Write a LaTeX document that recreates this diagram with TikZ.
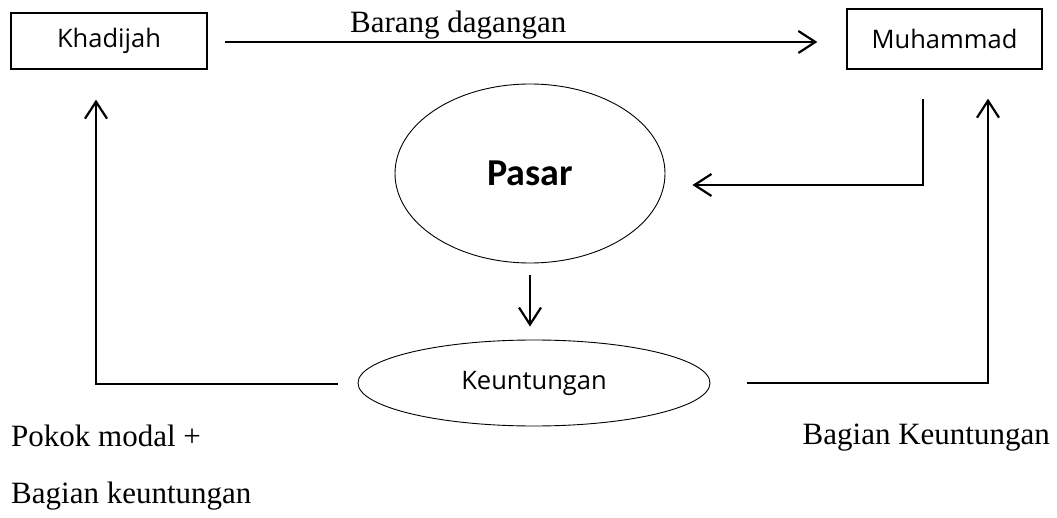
\documentclass[tikz,border=0pt]{standalone}
\usepackage{fontspec}
\setmainfont{Liberation Serif}
\newfontfamily\boxfont{Open Sans}
\newfontfamily\pasarfont{Carlito}
\usetikzlibrary{arrows.meta,shapes.geometric}
\begin{document}
\begin{tikzpicture}[x=1pt,y=-1pt,
  box/.style={draw, line width=1.3pt, inner sep=0pt, font=\boxfont\fontsize{25.5}{30}\selectfont},
  ell/.style={draw, ellipse, line width=0.9pt, inner sep=0pt},
  conn/.style={line width=2.2pt},
  arr/.style={conn, -{Straight Barb[length=17pt,width=22pt,line width=2.2pt]}},
  lbl/.style={inner sep=0pt, font=\fontsize{31}{36}\selectfont}
]
\useasboundingbox (0,0) rectangle (1057,518);
\node[box, minimum width=196pt, minimum height=56pt] (kh) at (109,41) {Khadijah};
\node[box, minimum width=195pt, minimum height=60pt] (mu) at (944.5,39) {Muhammad};
\node[ell, minimum width=270pt, minimum height=179pt, font=\pasarfont\bfseries\fontsize{38}{44}\selectfont] (pa) at (530,173.5) {Pasar};
\node[ell, minimum width=352pt, minimum height=86pt, font=\boxfont\fontsize{25.5}{30}\selectfont] (ke) at (534,383) {Keuntungan};

\node[lbl, anchor=base west] (bd) at (350,33) {Barang dagangan};
\node[lbl, anchor=base west] (pm) at (11,446) {Pokok modal +};
\node[lbl, anchor=base west] (bk1) at (11,503) {Bagian keuntungan};
\node[lbl, anchor=base east] (bk2) at (1050,444) {Bagian Keuntungan};

\draw[arr] ([xshift=17pt,yshift=-1pt]kh.east) -- ([xshift=-29pt,yshift=-1pt]kh.east -| mu.west);
\draw[arr] ([xshift=-21.5pt,yshift=-29pt]mu.south) |- ([xshift=27pt,yshift=-11.5pt]pa.east);
\draw[arr] ([yshift=-12pt]pa.south) -- ([yshift=13pt]ke.north -| pa.south);
\draw[arr] ([xshift=-20pt,yshift=-1pt]ke.west) -| ([xshift=-13pt,yshift=-30pt]kh.south);
\draw[arr] ([xshift=37pt]ke.east) -| ([xshift=43.5pt,yshift=-29pt]mu.south);
\end{tikzpicture}
\end{document}
